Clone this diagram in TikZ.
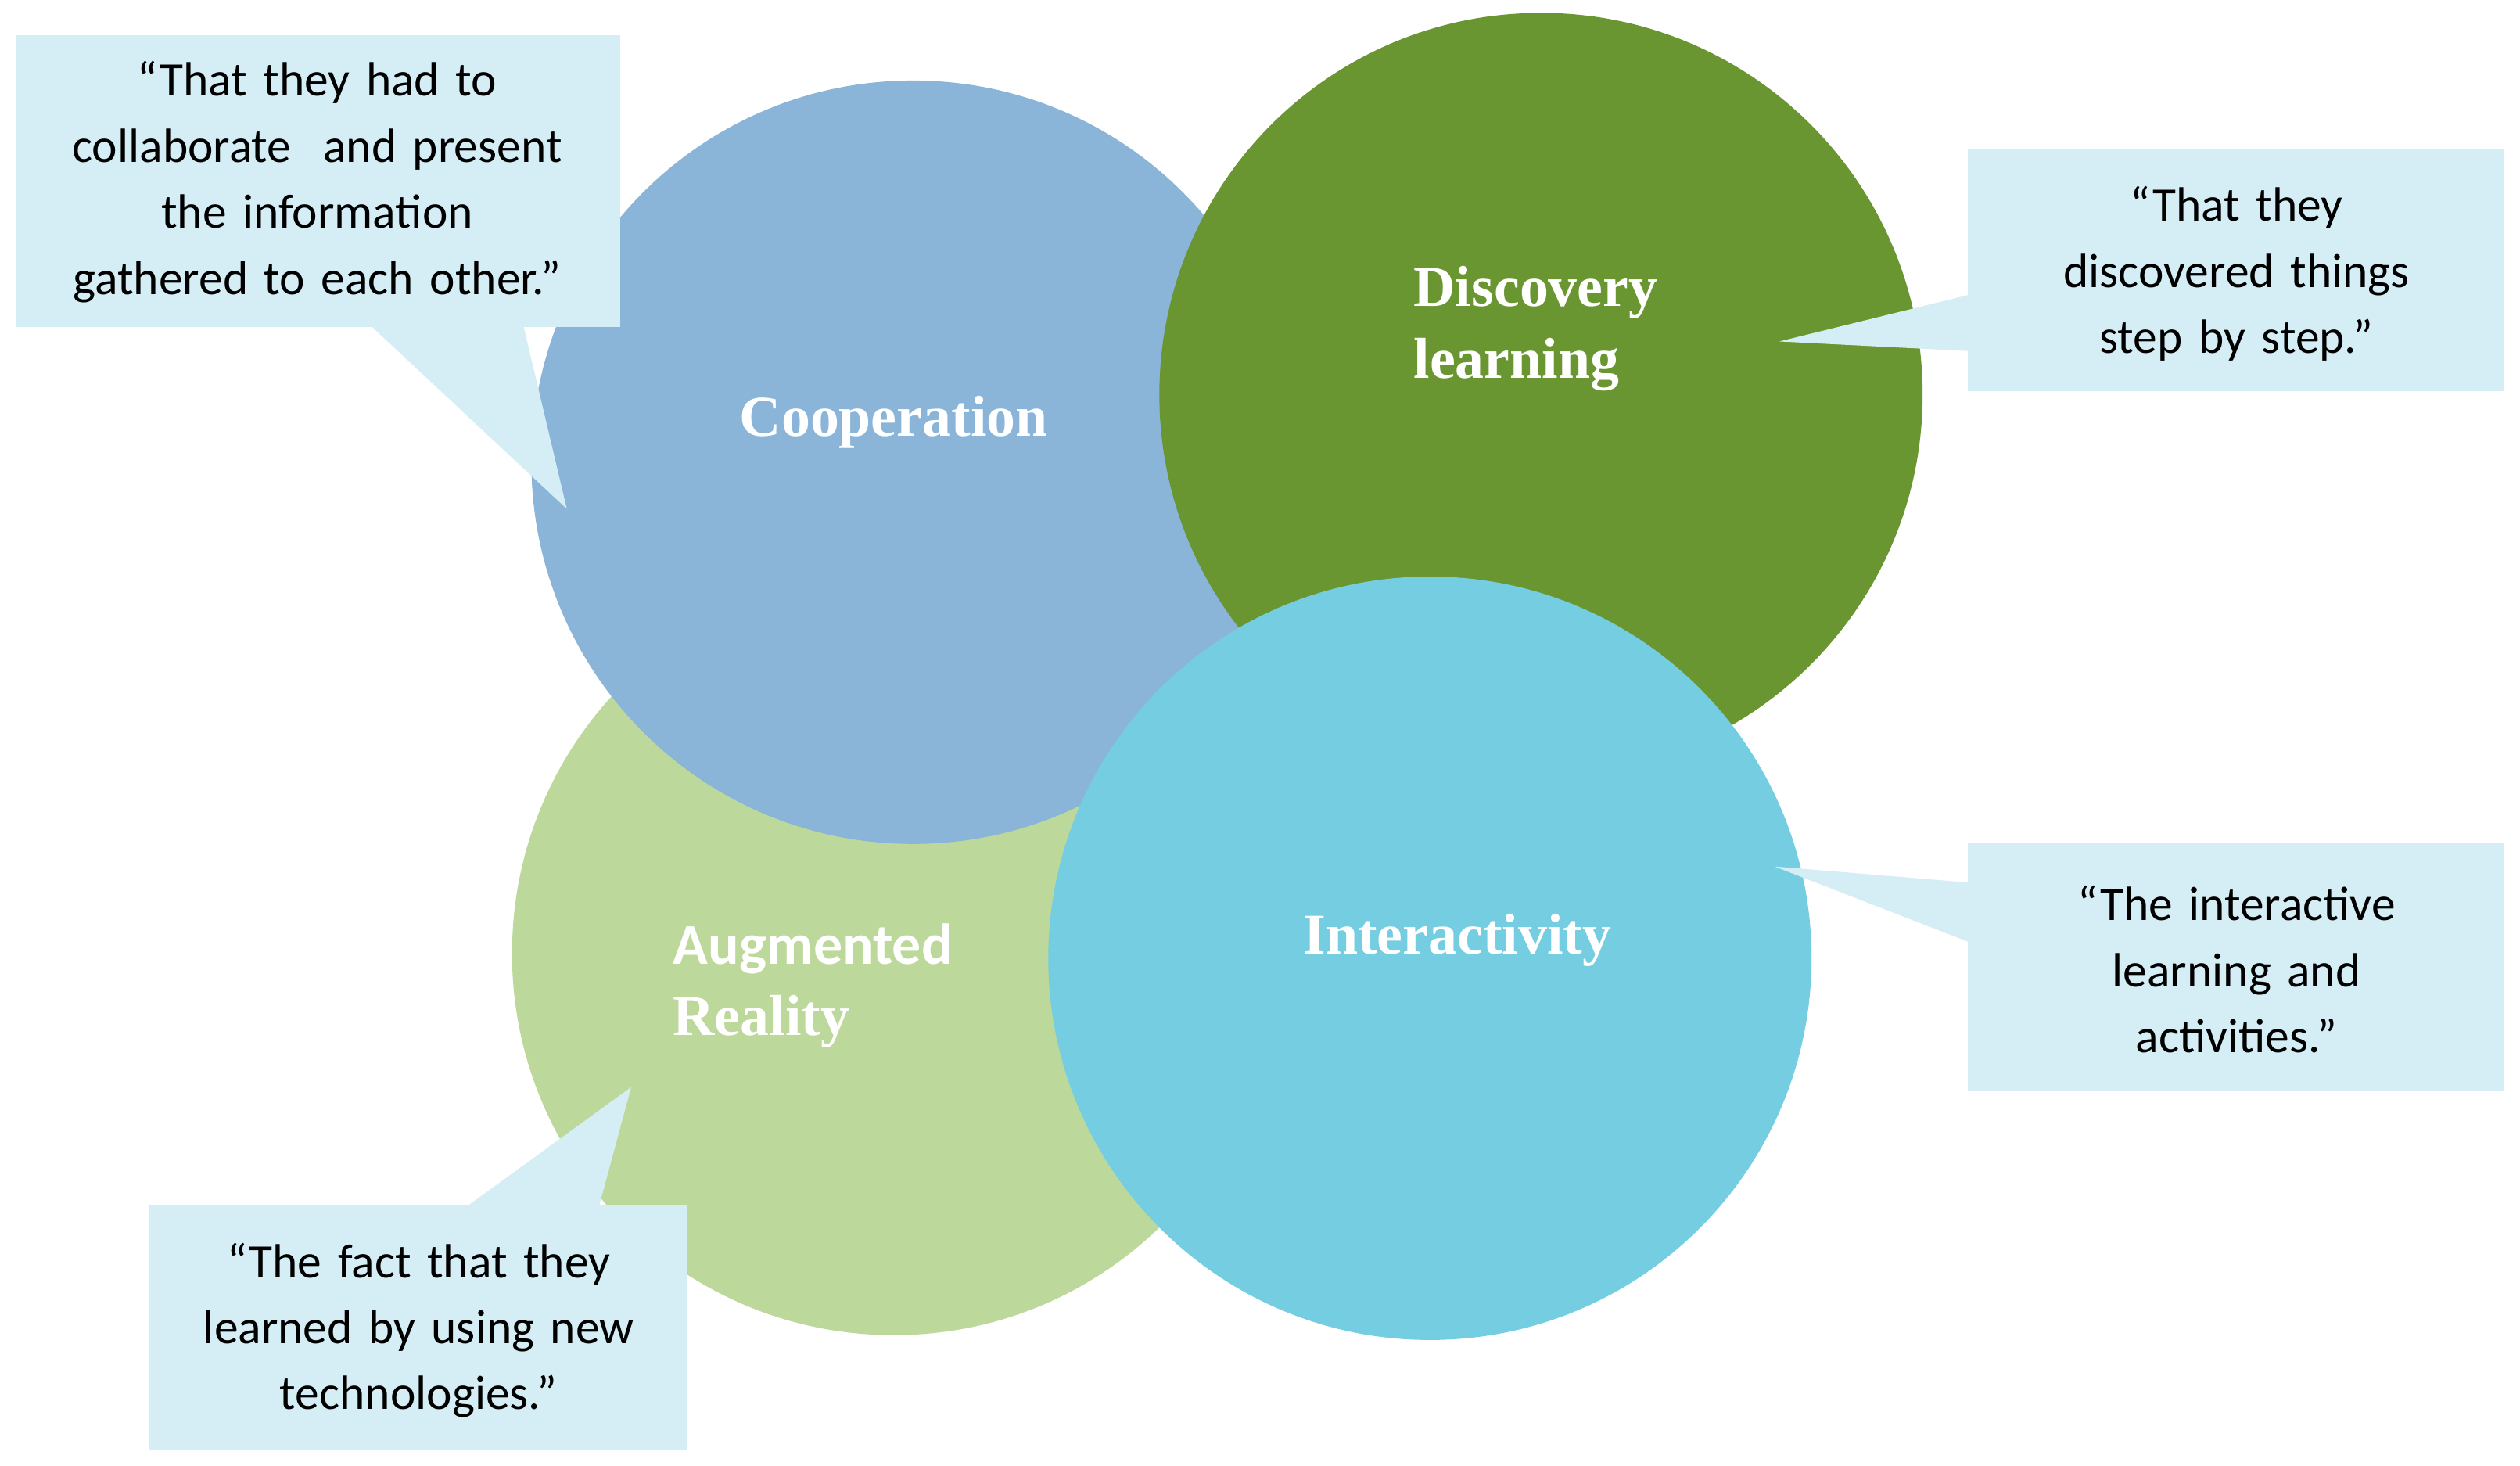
\documentclass[tikz,border=0pt]{standalone}
\usepackage{fontspec}
\setmainfont{Liberation Serif}
\newfontfamily\boxfont{Carlito}
\begin{document}
\begin{tikzpicture}[x=0.02059cm,y=-0.02059cm]
\definecolor{cAR}{HTML}{BDD89B}
\definecolor{cCO}{HTML}{8AB4D8}
\definecolor{cDL}{HTML}{6A9632}
\definecolor{cIN}{HTML}{74CDE0}
\definecolor{cBX}{HTML}{D5EEF5}
\tikzset{
  circ/.style={circle,draw=none,minimum size=474*0.02059cm,inner sep=0},
  lab/.style={text=white,font=\bfseries\fontsize{21}{26}\selectfont},
  quote/.style={fill=cBX,draw=none,inner sep=0,text width=#1,align=center,font=\boxfont\fontsize{17.5}{24}\selectfont},
  ptr/.style={fill=cBX,draw=none}
}
\useasboundingbox (0,0) rectangle (1565,910);
\fill[white] (0,0) rectangle (1565,910);
\node[circ,fill=cAR] (ar) at (555,592) {};
\node[circ,fill=cCO] (co) at (567,287) {};
\node[circ,fill=cDL] (dl) at (957,245) {};
\node[circ,fill=cIN] (in) at (888,595) {};
\node[lab] (colab) at (555,262) {Cooperation};
\node[lab,anchor=west,align=left] (dllab) at (872,204) {Discovery\\learning};
\node[lab,anchor=west,align=left] (arlab) at (412,612) {{\boxfont Augmented}\\Reality};
\node[lab] (inlab) at (905,584) {Interactivity};
% boxes
\fill[cBX] (10,22) rectangle (385,203);
\fill[cBX] (1222,93) rectangle (1555,243);
\fill[cBX] (1222,523) rectangle (1555,677);
\fill[cBX] (93,748) rectangle (427,900);
\coordinate (t1) at (352,316);
\coordinate (t2) at (1105,212);
\coordinate (t3) at (1102,538);
\coordinate (t4) at (392,675);
\fill[cBX] (230,202) -- (t1) -- (325,202) -- cycle;
\fill[cBX] (1223,183) -- (t2) -- (1223,218) -- cycle;
\fill[cBX] (1223,548) -- (t3) -- (1223,585) -- cycle;
\fill[cBX] (290,749) -- (t4) -- (372,749) -- cycle;
\node[quote=360*0.02059cm] (q1) at (197,113) {“That they had to\\collaborate\ \ and present\\the information\\gathered to each other.”};
\node[quote=330*0.02059cm] (q2) at (1389,170) {“That they\\discovered things\\step by step.”};
\node[quote=330*0.02059cm] (q3) at (1389,602) {“The interactive\\learning and\\activities.”};
\node[quote=330*0.02059cm] (q4) at (260,826) {“The fact that they\\learned by using new\\technologies.”};
\end{tikzpicture}
\end{document}
